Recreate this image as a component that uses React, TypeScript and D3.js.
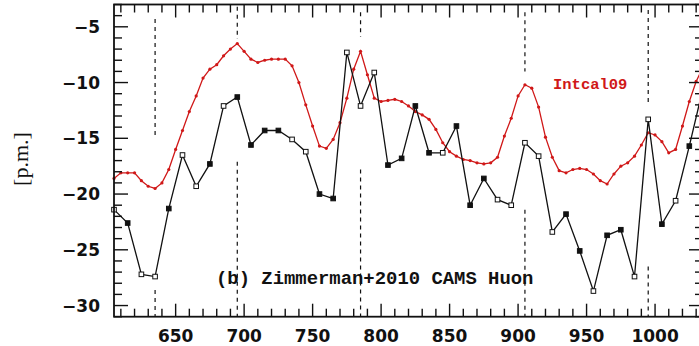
import React from "react";
import * as d3 from "d3";

// Zimmerman+2010 CAMS Huon series (decadal), per mil
const huonYears = [605, 615, 625, 635, 645, 655, 665, 675, 685, 695, 705, 715, 725, 735, 745, 755, 765, 775, 785, 795, 805, 815, 825, 835, 845, 855, 865, 875, 885, 895, 905, 915, 925, 935, 945, 955, 965, 975, 985, 995, 1005, 1015, 1025, 1035];
const huonValues = [-21.4, -22.6, -27.2, -27.4, -21.3, -16.5, -19.3, -17.3, -12.1, -11.3, -15.6, -14.3, -14.3, -15.1, -16.2, -20.0, -20.4, -7.3, -12.1, -9.1, -17.4, -16.8, -12.1, -16.3, -16.3, -13.9, -21.0, -18.6, -20.5, -21.0, -15.4, -16.6, -23.4, -21.8, -25.1, -28.7, -23.7, -23.2, -27.4, -13.3, -22.7, -20.6, -15.7, -10.5];
const huonFilled = [0, 1, 0, 0, 1, 0, 0, 1, 0, 1, 1, 1, 1, 0, 0, 1, 1, 0, 0, 0, 1, 1, 1, 1, 0, 1, 1, 1, 0, 0, 0, 0, 0, 1, 1, 0, 1, 1, 0, 0, 1, 0, 1, 1];

// IntCal09 curve (5-year steps)
const intcalYears = [605, 610, 615, 620, 625, 630, 635, 640, 645, 650, 655, 660, 665, 670, 675, 680, 685, 690, 695, 700, 705, 710, 715, 720, 725, 730, 735, 740, 745, 750, 755, 760, 765, 770, 775, 780, 785, 790, 795, 800, 805, 810, 815, 820, 825, 830, 835, 840, 845, 850, 855, 860, 865, 870, 875, 880, 885, 890, 895, 900, 905, 910, 915, 920, 925, 930, 935, 940, 945, 950, 955, 960, 965, 970, 975, 980, 985, 990, 995, 1000, 1005, 1010, 1015, 1020, 1025, 1030, 1035];
const intcalValues = [-18.6, -18.1, -18.1, -18.1, -18.8, -19.3, -19.5, -19.0, -17.8, -16.0, -14.3, -12.6, -11.2, -9.6, -8.8, -8.4, -7.6, -7.0, -6.5, -7.2, -7.9, -8.2, -8.0, -7.9, -7.9, -7.9, -8.5, -10.0, -12.0, -13.9, -15.7, -15.9, -15.1, -13.6, -11.4, -8.8, -7.2, -9.3, -11.4, -11.7, -11.6, -11.5, -11.7, -12.1, -12.6, -12.9, -13.3, -14.2, -15.4, -16.2, -16.6, -16.9, -17.0, -17.2, -17.3, -17.2, -16.7, -14.8, -13.2, -11.2, -10.2, -10.5, -12.2, -14.9, -16.7, -17.9, -18.1, -17.8, -17.7, -17.8, -18.2, -18.8, -19.1, -18.2, -17.5, -17.2, -16.6, -15.6, -14.5, -14.7, -15.3, -16.3, -16.0, -13.9, -11.7, -9.9, -8.6];

// Dashed markers: year and the value spans they cover
const markerYears = [635, 695, 785, 905, 995];
const markerSpans: [number, number][][] = [
  [[-4.3, -15.0], [-28.6, -31]],
  [[-3.2, -6.1], [-17.1, -31]],
  [[-3.7, -5.9], [-17.8, -31]],
  [[-3.7, -9.0], [-21.4, -31]],
  [[-3.5, -12.0], [-26.5, -31]],
];

const xMajorTicks = [650, 700, 750, 800, 850, 900, 950, 1000];
const yMajorTicks = [-5, -10, -15, -20, -25, -30];

const W = 699;
const H = 346;
const RED = "#d01818";

export default function App() {
  const x = d3.scaleLinear().domain([605, 1035]).range([114, 703]);
  const y = d3.scaleLinear().domain([-31, -3]).range([316.7, 4.5]);
  const [x0, x1] = x.range();
  const [yb, yt] = y.range();

  const xMinor = d3.range(610, 1035, 10);
  const yMinor = d3.range(-31, -2, 1);

  const huon = huonYears.map((yr, i) => ({ yr, v: huonValues[i], f: huonFilled[i] }));
  const intcal = intcalYears.map((yr, i) => ({ yr, v: intcalValues[i] }));

  const line = d3
    .line<{ yr: number; v: number }>()
    .x((d) => x(d.yr))
    .y((d) => y(d.v));

  const tickFont = "'DejaVu Sans', sans-serif";

  return (
    <svg
      width={W}
      height={H}
      style={{ position: "absolute", left: 0, top: 0, background: "#fff" }}
    >
      <rect x={0} y={0} width={W} height={H} fill="#fff" />

      {/* dashed vertical markers */}
      {markerYears.map((yr, i) =>
        markerSpans[i].map((s, j) => (
          <line
            key={`m${i}-${j}`}
            x1={x(yr)}
            x2={x(yr)}
            y1={y(s[0])}
            y2={y(s[1])}
            stroke="#111"
            strokeWidth={1.2}
            strokeDasharray="4 4"
          />
        ))
      )}

      {/* IntCal09 */}
      <path d={line(intcal) || ""} fill="none" stroke={RED} strokeWidth={1.3} />
      {intcal.map((d, i) => (
        <circle key={`r${i}`} cx={x(d.yr)} cy={y(d.v)} r={1.6} fill={RED} />
      ))}

      {/* Huon series */}
      <path d={line(huon) || ""} fill="none" stroke="#111" strokeWidth={1.3} />
      {huon.map((d, i) => (
        <rect
          key={`b${i}`}
          x={x(d.yr) - 2.3}
          y={y(d.v) - 2.3}
          width={4.6}
          height={4.6}
          fill={d.f ? "#111" : "#fff"}
          stroke="#111"
          strokeWidth={1}
        />
      ))}

      {/* frame */}
      <rect
        x={x0}
        y={yt}
        width={x1 - x0}
        height={yb - yt}
        fill="none"
        stroke="#111"
        strokeWidth={1.8}
      />

      {/* x ticks, bottom and top */}
      {xMinor.map((t) => {
        const len = t % 50 === 0 ? 13 : 8;
        return (
          <g key={`xt${t}`} stroke="#111" strokeWidth={1.4}>
            <line x1={x(t)} x2={x(t)} y1={yb} y2={yb - len} />
            <line x1={x(t)} x2={x(t)} y1={yt} y2={yt + len} />
          </g>
        );
      })}

      {/* y ticks, left and right */}
      {yMinor.map((t) => {
        const len = t % 5 === 0 ? 14 : 8;
        return (
          <g key={`yt${t}`} stroke="#111" strokeWidth={1.4}>
            <line x1={x0} x2={x0 + len} y1={y(t)} y2={y(t)} />
            <line x1={x1} x2={x1 - len} y1={y(t)} y2={y(t)} />
          </g>
        );
      })}

      {/* tick labels */}
      {xMajorTicks.map((t) => (
        <text
          key={`xl${t}`}
          x={x(t)}
          y={342}
          textAnchor="middle"
          fontFamily={tickFont}
          fontWeight="bold"
          fontSize={17}
          fill="#111"
        >
          {t}
        </text>
      ))}
      {yMajorTicks.map((t) => (
        <text
          key={`yl${t}`}
          x={100}
          y={y(t) + 6}
          textAnchor="end"
          fontFamily={tickFont}
          fontWeight="bold"
          fontSize={17}
          fill="#111"
        >
          {`\u2212${Math.abs(t)}`}
        </text>
      ))}

      {/* axis title */}
      <text
        transform={`translate(28,159) rotate(-90)`}
        textAnchor="middle"
        fontFamily="'Liberation Serif', serif"
        fontSize={22}
        fill="#111"
      >
        [p.m.]
      </text>

      {/* annotations */}
      <text
        x={216}
        y={284}
        fontFamily="'Liberation Mono', monospace"
        fontWeight="bold"
        fontSize={18.9}
        fill="#111"
      >
        (b) Zimmerman+2010 CAMS Huon
      </text>
      <text
        x={553}
        y={89}
        fontFamily="'Liberation Mono', monospace"
        fontWeight="bold"
        fontSize={15.5}
        fill={RED}
      >
        Intcal09
      </text>
    </svg>
  );
}
